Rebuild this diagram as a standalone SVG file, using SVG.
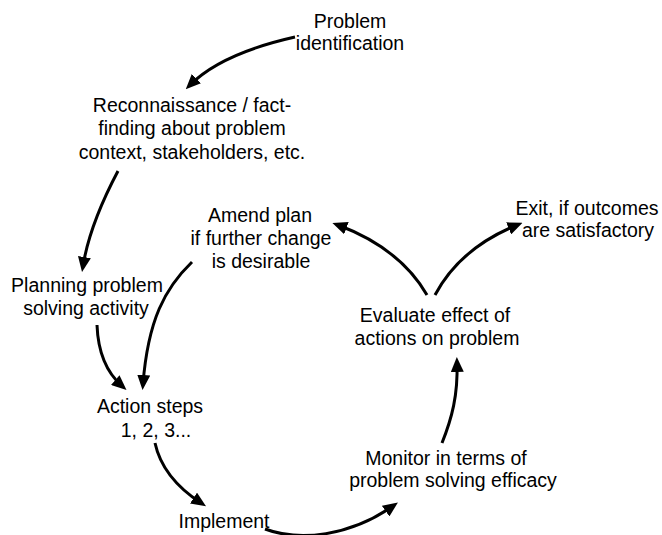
<svg xmlns="http://www.w3.org/2000/svg" width="662" height="535" viewBox="0 0 662 535">
<style>
text{font-family:"Liberation Sans",Arial,sans-serif;font-size:19.5px;fill:#000;text-anchor:middle}
.c{fill:none;stroke:#000;stroke-width:3;marker-end:url(#ah)}
</style>
<defs>
<marker id="ah" viewBox="0 0 15 13" refX="9" refY="6.5" markerWidth="15" markerHeight="13" markerUnits="userSpaceOnUse" orient="auto">
<path d="M0,0 L15,6.5 L0,13 z" fill="#000"/>
</marker>
</defs>
<rect width="662" height="535" fill="#fff"/>
<g id="connectors">
<path class="c" d="M295,37 C255,46 215,60 190,85"/>
<path class="c" d="M118,171 C100,205 88,235 83,266"/>
<path class="c" d="M97,325 C98,352 106,372 122,386"/>
<path class="c" d="M192,262 C165,288 148,320 143,384"/>
<path class="c" d="M427,295 C408,262 378,240 338,225"/>
<path class="c" d="M435,295 C452,263 480,240 517,225"/>
<path class="c" d="M155,443 C160,466 175,486 201,503"/>
<path class="c" d="M265,529 C300,542 350,536 393,506"/>
<path class="c" d="M442,443 C452,418 458,395 457,363"/>
</g>
<g id="problem"><text x="350" y="28">Problem</text><text x="350" y="50">identification</text></g>
<g id="recon"><text x="192" y="112">Reconnaissance / fact-</text><text x="192" y="135">finding about problem</text><text x="192" y="159">context, stakeholders, etc.</text></g>
<g id="planning"><text x="87" y="292">Planning problem</text><text x="86" y="315">solving activity</text></g>
<g id="amend"><text x="260" y="222">Amend plan</text><text x="261" y="245">if further change</text><text x="261" y="268">is desirable</text></g>
<g id="exit"><text x="587" y="215">Exit, if outcomes</text><text x="588" y="237">are satisfactory</text></g>
<g id="evaluate"><text x="435" y="322">Evaluate effect of</text><text x="437" y="345">actions on problem</text></g>
<g id="action"><text x="150" y="413">Action steps</text><text x="156" y="437">1, 2, 3...</text></g>
<g id="monitor"><text x="446" y="465">Monitor in terms of</text><text x="453" y="487">problem solving efficacy</text></g>
<g id="implement"><text x="224" y="528">Implement</text></g>
</svg>
